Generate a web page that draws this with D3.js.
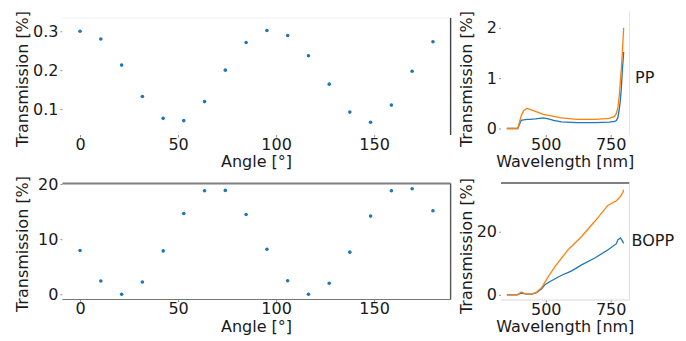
<!DOCTYPE html>
<html>
<head>
<meta charset="utf-8">
<script src="https://cdn.jsdelivr.net/npm/d3@7"></script>
<style>
  body { margin: 0; background: #fff; }
  svg text { font-family: "DejaVu Sans", sans-serif; fill: #1a1a1a; }
</style>
</head>
<body>
<svg id="chart"></svg>
<script>
const width = 686,
  height = 341;

// angle scans (top: PP, bottom: BOPP)
const angles = [0, 10.6, 21.2, 31.8, 42.4, 52.9, 63.5, 74.1, 84.7, 95.3, 105.9, 116.5, 127.1, 137.6, 148.2, 158.8, 169.4, 180];
const ppAngleT = [0.300, 0.280, 0.213, 0.132, 0.076, 0.070, 0.119, 0.200, 0.271, 0.302, 0.289, 0.237, 0.164, 0.092, 0.066, 0.110, 0.197, 0.273];
const boppAngleT = [7.93, 2.42, 0.0, 2.24, 7.87, 14.65, 18.78, 18.84, 14.47, 8.18, 2.47, 0.0, 2.0, 7.64, 14.18, 18.78, 19.15, 15.15];

// spectra
const ppWl = [350, 380, 392, 400, 405, 415, 427, 440, 460, 490, 510, 530, 560, 620, 690, 745, 765, 772, 778, 784, 788, 791, 795, 800];
const ppBlue = [0, 0, 0, 0.10, 0.16, 0.17, 0.18, 0.18, 0.19, 0.21, 0.19, 0.16, 0.13, 0.115, 0.115, 0.125, 0.14, 0.16, 0.22, 0.42, 0.6, 0.8, 1.15, 1.52];
const ppOrange = [0, 0, 0, 0.15, 0.25, 0.36, 0.40, 0.38, 0.34, 0.28, 0.26, 0.24, 0.21, 0.18, 0.18, 0.20, 0.24, 0.30, 0.42, 0.70, 0.99, 1.2, 1.5, 2.0];

const boppWl = [350, 390, 398, 405, 415, 427, 446, 465, 485, 497, 510, 536, 561, 587, 600, 638, 689, 740, 772, 778, 788, 797, 800];
const boppBlue = [0, 0, 0.3, 0.5, 0.35, 0.2, 0.2, 0.7, 2.0, 3.2, 3.9, 5.1, 6.2, 7.1, 7.6, 9.5, 11.65, 14.3, 16.2, 17.5, 18.0, 16.8, 16.3];
const boppOrange = [0, 0, 0.4, 0.86, 0.5, 0.2, 0.2, 0.86, 2.35, 4.0, 5.8, 9.0, 11.65, 14.4, 15.4, 18.5, 23.3, 28.4, 29.8, 30.3, 31.2, 32.5, 33.3];

const angleTicks = [0, 50, 100, 150];
const wlTicks = [500, 750];

const blue = "#1f77b4",
  orange = "#ff7f0e";

const svg = d3.select("#chart").attr("width", width).attr("height", height);

function drawPanel(p) {
  const g = svg.append("g");
  const x = d3.scaleLinear().domain(p.xDomain).range([p.left, p.right]);
  const y = d3.scaleLinear().domain(p.yDomain).range([p.bottom, p.top]);

  // x axis
  const xa = g
    .append("g")
    .attr("transform", `translate(0,${p.bottom})`)
    .call(d3.axisBottom(x).tickValues(p.xTicks).tickSize(2.5).tickPadding(1).tickFormat(d3.format("d")));
  // y axis
  const ya = g
    .append("g")
    .attr("transform", `translate(${p.left},0)`)
    .call(d3.axisLeft(y).tickValues(p.yTicks).tickSize(2).tickPadding(2).tickFormat(p.yFormat));
  [xa, ya].forEach((a) => {
    a.select(".domain").remove();
    a.selectAll(".tick line").attr("stroke", "#777").attr("stroke-width", 0.8);
    a.selectAll(".tick text").style("font-size", "16px").attr("fill", "#1a1a1a");
  });

  // spines (styles differ per panel in the original)
  p.spines.forEach((s) => {
    const c = {
      top: [p.left, p.top, p.right, p.top],
      bottom: [p.left, p.bottom, p.right, p.bottom],
      right: [p.right, p.top, p.right, p.bottom],
      left: [p.left, p.top, p.left, p.bottom],
    }[s.side];
    g.append("line")
      .attr("x1", c[0]).attr("y1", c[1]).attr("x2", c[2]).attr("y2", c[3])
      .attr("stroke", s.color)
      .attr("stroke-width", s.w);
  });

  // labels
  g.append("text")
    .attr("x", (p.left + p.right) / 2)
    .attr("y", p.bottom + 32)
    .attr("text-anchor", "middle")
    .style("font-size", "16px")
    .text(p.xLabel);
  g.append("text")
    .attr("transform", `translate(${p.yLabelX},${p.yLabelY}) rotate(-90)`)
    .attr("text-anchor", "middle")
    .attr("dy", "0.35em")
    .style("font-size", "16px")
    .text("Transmission [%]");

  return { g, x, y };
}

// top-left: PP angle scan
const tl = drawPanel({
  left: 62.4, right: 450.6, top: 18, bottom: 135,
  xDomain: [-9, 189], yDomain: [0.0331, 0.3342],
  xTicks: angleTicks, yTicks: [0.1, 0.2, 0.3], yFormat: d3.format(".1f"),
  xLabel: "Angle [°]", yLabelX: 22, yLabelY: 79,
  spines: [
    { side: "top", color: "#f0f0f0", w: 1 },
    { side: "right", color: "#444", w: 1.4 },
  ],
});
tl.g.selectAll("circle.pt")
  .data(angles)
  .join("circle")
  .attr("cx", (d) => tl.x(d))
  .attr("cy", (d, i) => tl.y(ppAngleT[i]))
  .attr("r", 1.8)
  .attr("fill", blue);

// bottom-left: BOPP angle scan
const bl = drawPanel({
  left: 62.4, right: 450.6, top: 183.5, bottom: 299.5,
  xDomain: [-9, 189], yDomain: [-0.94, 20.09],
  xTicks: angleTicks, yTicks: [0, 10, 20], yFormat: d3.format("d"),
  xLabel: "Angle [°]", yLabelX: 22, yLabelY: 244,
  spines: [
    { side: "top", color: "#808080", w: 2 },
    { side: "right", color: "#555", w: 1.4 },
    { side: "bottom", color: "#777", w: 1.2 },
  ],
});
bl.g.selectAll("circle.pt")
  .data(angles)
  .join("circle")
  .attr("cx", (d) => bl.x(d))
  .attr("cy", (d, i) => bl.y(boppAngleT[i]))
  .attr("r", 1.8)
  .attr("fill", blue);

// top-right: PP spectra
const tr = drawPanel({
  left: 501, right: 629.5, top: 11, bottom: 135,
  xDomain: [327.5, 822.5], yDomain: [-0.129, 2.333],
  xTicks: wlTicks, yTicks: [0, 1, 2], yFormat: d3.format("d"),
  xLabel: "Wavelength [nm]", yLabelX: 466.7, yLabelY: 79,
  spines: [{ side: "right", color: "#e4e4e4", w: 1 }],
});
[[ppBlue, blue], [ppOrange, orange]].forEach(([vals, col]) => {
  tr.g.append("path")
    .datum(ppWl)
    .attr("fill", "none")
    .attr("stroke", col)
    .attr("stroke-width", 1.3)
    .attr("d", d3.line().x((d) => tr.x(d)).y((d, i) => tr.y(vals[i])));
});
tr.g.append("text").attr("x", 635).attr("y", 77).attr("dy", "0.35em").style("font-size", "16px").text("PP");

// bottom-right: BOPP spectra
const br = drawPanel({
  left: 501, right: 629.5, top: 183, bottom: 300,
  xDomain: [327.5, 822.5], yDomain: [-1.65, 35.44],
  xTicks: wlTicks, yTicks: [0, 20], yFormat: d3.format("d"),
  xLabel: "Wavelength [nm]", yLabelX: 466.7, yLabelY: 246,
  spines: [
    { side: "top", color: "#808080", w: 2 },
    { side: "right", color: "#e0e0e0", w: 1 },
    { side: "bottom", color: "#d8d8d8", w: 1 },
  ],
});
[[boppBlue, blue], [boppOrange, orange]].forEach(([vals, col]) => {
  br.g.append("path")
    .datum(boppWl)
    .attr("fill", "none")
    .attr("stroke", col)
    .attr("stroke-width", 1.3)
    .attr("d", d3.line().x((d) => br.x(d)).y((d, i) => br.y(vals[i])));
});
br.g.append("text").attr("x", 631.5).attr("y", 240).attr("dy", "0.35em").style("font-size", "16px").text("BOPP");
</script>
</body>
</html>
